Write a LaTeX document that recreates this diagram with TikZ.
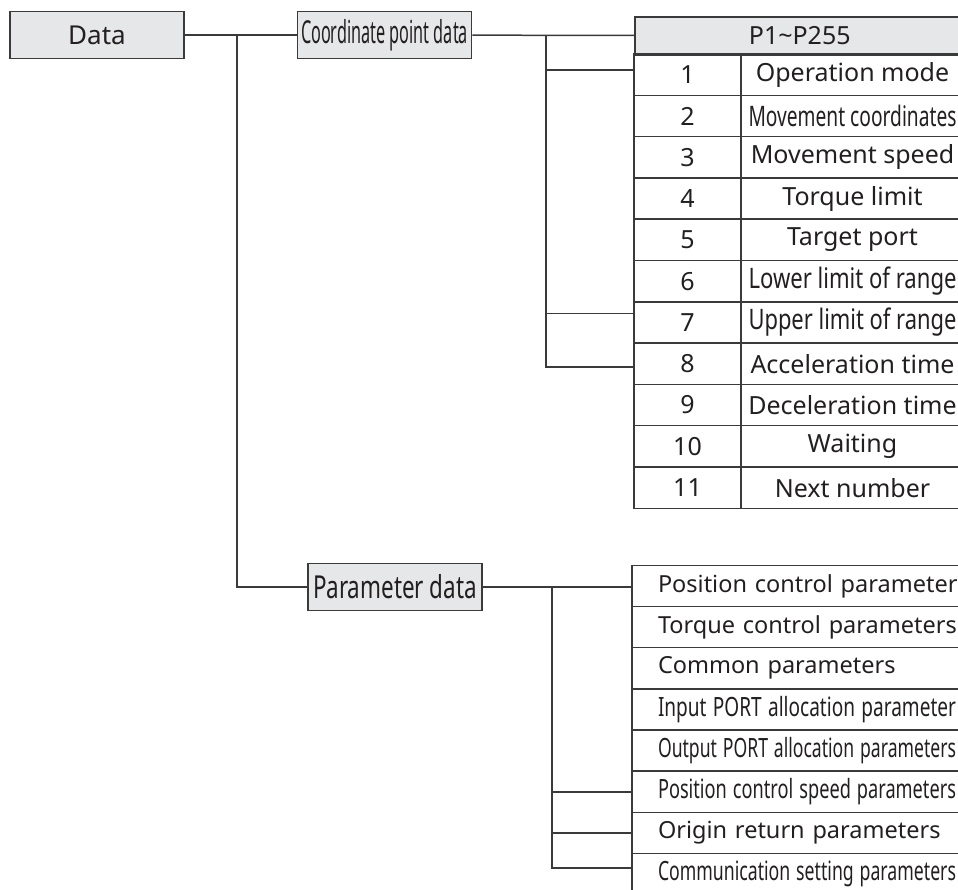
\documentclass[tikz,border=0pt]{standalone}
\usepackage{fontspec}
\setmainfont{Noto Sans}
\usepackage{graphicx}
\usetikzlibrary{shapes}
\definecolor{linec}{HTML}{3A3A3A}
\definecolor{boxc}{HTML}{E6E7E8}
\definecolor{textc}{HTML}{231F20}
\newcommand{\squeezed}[2]{\resizebox{#1}{1.13\height}{#2}}
\tikzstyle{block} = [draw=linec, fill=boxc, rectangle, minimum height=47pt, minimum width=174pt, inner sep=0pt, font=\fontsize{26}{30}\selectfont]
\tikzstyle{head} = [draw=linec, fill=boxc, rectangle, minimum height=38pt, minimum width=330pt, inner sep=0pt]
\tikzstyle{num} = [draw=linec, rectangle, minimum height=41.3pt, minimum width=107pt, inner sep=0pt, node distance=41.3pt]
\tikzstyle{item} = [draw=linec, rectangle, minimum height=41.3pt, minimum width=223pt, inner sep=0pt, node distance=165pt]
\tikzstyle{prow} = [draw=linec, rectangle, minimum height=41.15pt, text width=320pt, align=left, inner xsep=26pt, inner ysep=0pt, node distance=41.15pt, font=\fontsize{23.5}{28}\selectfont]

\begin{document}
\begin{tikzpicture}[x=1pt, y=-1pt, line width=1.5pt, color=linec, text=textc, font=\fontsize{25}{30}\selectfont]
    \path[use as bounding box, clip] (0,0) rectangle (958,889);
    % Define the nodes
    \node [block] (data) at (97,35) {Data};
    \node [block, font=\fontsize{28}{32}\selectfont] (coord) at (384.5,35) {\squeezed{167pt}{Coordinate point data}};
    \node [block, font=\fontsize{28}{32}\selectfont] (param) at (395,587) {\squeezed{164pt}{Parameter data}};
    \coordinate (tr1) at (237,35);
    \coordinate (tr2) at (546,35);
    \coordinate (tr3) at (552,587);
    % Point table
    \node [head, anchor=north west] (head) at (634,16) {P1\textasciitilde P255};
    \node [num] (n1) at (687.5,74.65) {1};
    \node [num, below of=n1] (n2) {2};
    \node [num, below of=n2] (n3) {3};
    \node [num, below of=n3] (n4) {4};
    \node [num, below of=n4] (n5) {5};
    \node [num, below of=n5] (n6) {6};
    \node [num, below of=n6] (n7) {7};
    \node [num, below of=n7] (n8) {8};
    \node [num, below of=n8] (n9) {9};
    \node [num, below of=n9] (n10) {10};
    \node [num, below of=n10] (n11) {11};
    \node [item, right of=n1] (t1) {Operation mode};
    \node [item, right of=n2] (t2) {\squeezed{208pt}{Movement coordinates}};
    \node [item, right of=n3] (t3) {Movement speed};
    \node [item, right of=n4] (t4) {Torque limit};
    \node [item, right of=n5] (t5) {Target port};
    \node [item, right of=n6] (t6) {\squeezed{208pt}{Lower limit of range}};
    \node [item, right of=n7] (t7) {\squeezed{208pt}{Upper limit of range}};
    \node [item, right of=n8] (t8) {Acceleration time};
    \node [item, right of=n9] (t9) {Deceleration time};
    \node [item, right of=n10] (t10) {Waiting};
    \node [item, right of=n11] (t11) {Next number};
    % Parameter table
    \node [prow] (p1) at (818,586) {Position control parameter};
    \node [prow, below of=p1] (p2) {Torque control parameters};
    \node [prow, below of=p2] (p3) {Common parameters};
    \node [prow, below of=p3] (p4) {\squeezed{298pt}{Input PORT allocation parameter}};
    \node [prow, below of=p4] (p5) {\squeezed{298pt}{Output PORT allocation parameters}};
    \node [prow, below of=p5] (p6) {\squeezed{298pt}{Position control speed parameters}};
    \node [prow, below of=p6] (p7) {Origin return parameters};
    \node [prow, below of=p7] (p8) {\squeezed{298pt}{Communication setting parameters}};
    % Connect the nodes
    \draw (data) -- (coord);
    \draw (tr1) |- (param);
    \draw (coord) -- (head);
    \draw (tr2) |- ([yshift=-3pt]n8.west);
    \draw ([yshift=4.5pt]n1.west) -| (tr2);
    \draw ([yshift=9pt]n7.west) -| (tr2);
    \draw (param) -- (param -| p1.west);
    \draw (tr3) |- ([yshift=6pt]p8.west);
    \draw (p6) -| (tr3);
    \draw (p7) -| (tr3);
\end{tikzpicture}
\end{document}
